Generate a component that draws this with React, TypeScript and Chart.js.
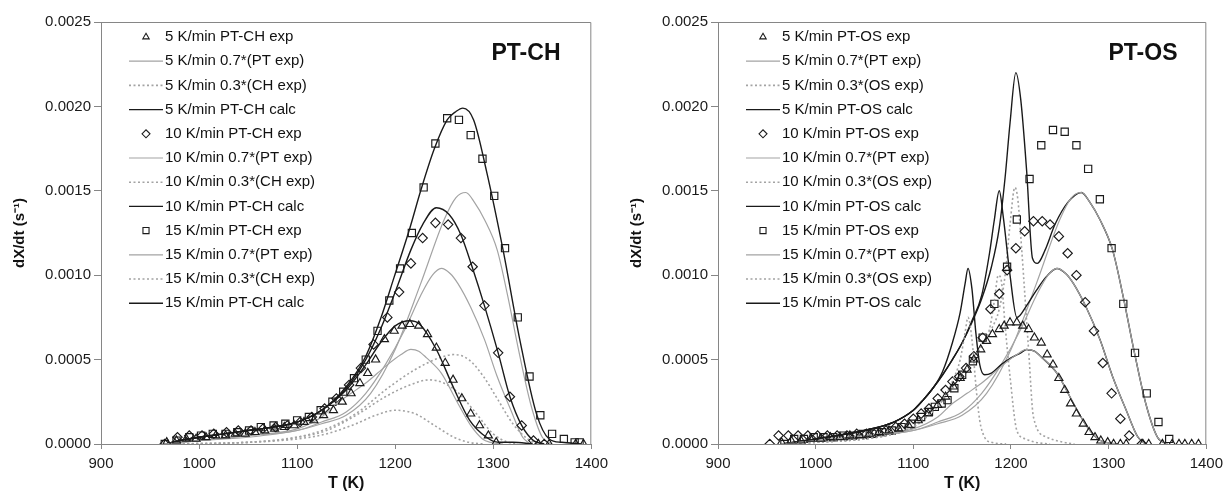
import React, { useEffect, useRef } from 'react';
import { Chart, registerables } from 'chart.js';

Chart.register(...registerables);

type P = [number, number];

// ---------- shared: 0.7*(PT exp) curves (T in K, dX/dt in 1/s) ----------
const pt5: P[] = [[965,0],[1000,0.00002],[1050,0.00005],[1100,0.00009],[1125,0.00016],[1140,0.00024],[1155,0.0003],[1172,0.00037],[1190,0.00046],[1206,0.00053],[1216,0.00056],[1224,0.00055],[1232,0.00051],[1247,0.00042],[1264,0.00024],[1277,0.00011],[1289,0.00003],[1297,0.00001],[1310,0]];
const pt10: P[] = [[965,0],[1000,0.00002],[1050,0.00005],[1100,0.00008],[1125,0.00013],[1150,0.00019],[1170,0.0003],[1190,0.00047],[1210,0.00068],[1226,0.00088],[1238,0.001],[1247,0.00104],[1256,0.00101],[1264,0.00095],[1277,0.00081],[1291,0.00062],[1304,0.0004],[1318,0.0002],[1330,0.00004],[1338,0]];
const pt15: P[] = [[965,0],[1000,0.00002],[1050,0.00004],[1100,0.00008],[1125,0.00012],[1150,0.00017],[1175,0.0003],[1200,0.00056],[1226,0.00095],[1250,0.00133],[1262,0.00146],[1272,0.00149],[1281,0.00143],[1291,0.00133],[1304,0.00115],[1315,0.00087],[1325,0.00058],[1338,0.00024],[1350,0.00004],[1360,0]];

// ---------- PT-CH panel ----------
const ch5Exp: P[] = [[967,0.00001],[977,0.00002],[987,0.00003],[997,0.00003],[1007,0.00004],[1017,0.00005],[1027,0.00005],[1037,0.00006],[1047,0.00006],[1057,0.00007],[1067,0.00008],[1077,0.00009],[1087,0.0001],[1097,0.00011],[1107,0.00013],[1117,0.00014],[1127,0.00017],[1137,0.0002],[1146,0.00025],[1155,0.0003],[1164,0.00036],[1172,0.00042],[1180,0.0005],[1189,0.00062],[1199,0.00067],[1207,0.0007],[1215,0.00071],[1224,0.0007],[1233,0.00065],[1242,0.00057],[1251,0.00048],[1259,0.00038],[1268,0.00027],[1277,0.00018],[1286,0.00011],[1295,0.00005],[1303,0.00001],[1346,0],[1357,0],[1384,0],[1392,0]];
const ch5CH: P[] = [[965,0],[1050,0.00001],[1100,0.00003],[1130,0.00006],[1160,0.00012],[1180,0.00017],[1200,0.0002],[1220,0.00018],[1240,0.00011],[1260,0.00004],[1275,0.00001],[1290,0]];
const ch5Calc: P[] = [[965,0],[980,0.00002],[1000,0.00004],[1025,0.00006],[1050,0.00008],[1075,0.0001],[1100,0.00013],[1125,0.0002],[1150,0.00032],[1170,0.00047],[1185,0.0006],[1200,0.0007],[1215,0.00073],[1225,0.00071],[1242,0.00056],[1259,0.00034],[1276,0.00014],[1293,0.00004],[1305,0.00001],[1320,0.00001],[1340,0]];

const ch10Exp: P[] = [[965,0],[978,0.00004],[990,0.00005],[1003,0.00005],[1015,0.00006],[1028,0.00007],[1040,0.00008],[1053,0.00008],[1065,0.00009],[1078,0.0001],[1090,0.00011],[1103,0.00013],[1115,0.00016],[1128,0.00021],[1140,0.00027],[1153,0.00035],[1165,0.00045],[1178,0.00059],[1192,0.00075],[1204,0.0009],[1216,0.00107],[1228,0.00122],[1241,0.00131],[1254,0.0013],[1267,0.00122],[1279,0.00105],[1291,0.00082],[1305,0.00054],[1317,0.00028],[1329,0.00011],[1341,0.00002],[1352,0]];
const ch10CH: P[] = [[965,0],[1050,0.00001],[1100,0.00004],[1130,0.00008],[1160,0.00017],[1190,0.00028],[1215,0.00035],[1235,0.00038],[1250,0.00036],[1265,0.0003],[1280,0.0002],[1300,0.00006],[1315,0.00001],[1325,0]];
const ch10Calc: P[] = [[965,0],[980,0.00002],[1000,0.00004],[1025,0.00006],[1050,0.00008],[1075,0.0001],[1100,0.00013],[1125,0.0002],[1150,0.00033],[1170,0.0005],[1185,0.00068],[1200,0.0009],[1216,0.00115],[1228,0.0013],[1242,0.0014],[1255,0.00136],[1267,0.00124],[1279,0.00104],[1291,0.00082],[1305,0.00054],[1317,0.00028],[1329,0.00011],[1341,0.00002],[1352,0]];

const ch15Exp: P[] = [[965,0],[977,0.00002],[990,0.00004],[1002,0.00005],[1014,0.00006],[1027,0.00006],[1039,0.00007],[1051,0.00008],[1063,0.0001],[1076,0.00011],[1088,0.00012],[1100,0.00014],[1112,0.00016],[1124,0.0002],[1136,0.00025],[1147,0.00031],[1158,0.00039],[1170,0.0005],[1182,0.00067],[1194,0.00085],[1205,0.00104],[1217,0.00125],[1229,0.00152],[1241,0.00178],[1253,0.00193],[1265,0.00192],[1277,0.00183],[1289,0.00169],[1301,0.00147],[1312,0.00116],[1325,0.00075],[1337,0.0004],[1348,0.00017],[1360,0.00006],[1372,0.00003],[1383,0.00001],[1388,0.00001]];
const ch15CH: P[] = [[965,0],[1050,0.00001],[1100,0.00004],[1130,0.00009],[1160,0.00018],[1190,0.00032],[1220,0.00044],[1245,0.00051],[1260,0.00053],[1275,0.0005],[1290,0.0004],[1305,0.00026],[1320,0.00012],[1335,0.00003],[1345,0]];
const ch15Calc: P[] = [[965,0],[980,0.00002],[1000,0.00004],[1025,0.00006],[1050,0.00008],[1075,0.0001],[1100,0.00013],[1125,0.0002],[1150,0.00034],[1170,0.00052],[1185,0.00074],[1199,0.00099],[1215,0.00128],[1226,0.0015],[1240,0.00175],[1253,0.00192],[1262,0.00197],[1269,0.00199],[1280,0.00192],[1293,0.00162],[1310,0.00115],[1327,0.00062],[1344,0.00018],[1357,0.00003],[1370,0.00001],[1390,0]];

// ---------- PT-OS panel ----------
const os5Exp: P[] = [[965,0.00001],[975,0.00002],[985,0.00002],[995,0.00003],[1005,0.00003],[1015,0.00004],[1025,0.00004],[1035,0.00005],[1045,0.00005],[1055,0.00006],[1065,0.00007],[1075,0.00008],[1085,0.00009],[1095,0.00011],[1105,0.00014],[1115,0.00018],[1125,0.00023],[1133,0.00028],[1141,0.00034],[1148,0.00039],[1155,0.00044],[1162,0.0005],[1169,0.00056],[1175,0.00061],[1181,0.00065],[1188,0.00068],[1193,0.0007],[1199,0.00072],[1206,0.00072],[1212,0.0007],[1218,0.00068],[1224,0.00063],[1231,0.0006],[1237,0.00053],[1243,0.00047],[1249,0.00039],[1255,0.00032],[1261,0.00024],[1267,0.00018],[1274,0.00012],[1280,0.00007],[1286,0.00004],[1292,0.00002],[1299,0.00001],[1305,0],[1312,0],[1318,0],[1335,0],[1341,0],[1355,0],[1365,0],[1372,0],[1378,0],[1385,0],[1392,0]];
const os5OS: P[] = [[965,0],[1000,0.00001],[1050,0.00003],[1080,0.00006],[1100,0.0001],[1110,0.00015],[1120,0.00019],[1130,0.00026],[1140,0.00037],[1148,0.0005],[1153,0.00066],[1156,0.00075],[1160,0.00062],[1164,0.00035],[1168,0.00014],[1173,0.00004],[1180,0.00001],[1195,0]];
const os5Calc: P[] = [[965,0],[1000,0.00003],[1050,0.00008],[1080,0.00013],[1100,0.0002],[1110,0.00026],[1120,0.00033],[1130,0.00043],[1140,0.0006],[1148,0.00078],[1153,0.00095],[1156,0.00104],[1160,0.00092],[1164,0.00066],[1168,0.00047],[1173,0.00041],[1180,0.00042],[1190,0.00047],[1200,0.00051],[1210,0.00054],[1216,0.00056],[1224,0.00055],[1232,0.00051],[1247,0.00042],[1264,0.00024],[1277,0.00011],[1289,0.00003],[1297,0.00001],[1310,0]];

const os10Exp: P[] = [[953,0],[962,0.00005],[972,0.00005],[982,0.00005],[992,0.00005],[1002,0.00005],[1012,0.00005],[1022,0.00005],[1032,0.00005],[1042,0.00006],[1052,0.00006],[1062,0.00007],[1072,0.00008],[1082,0.0001],[1091,0.00012],[1100,0.00015],[1108,0.00018],[1116,0.00021],[1125,0.00027],[1133,0.00032],[1140,0.00037],[1147,0.0004],[1154,0.00045],[1162,0.00052],[1171,0.00063],[1179,0.0008],[1188,0.00089],[1196,0.00103],[1205,0.00116],[1214,0.00126],[1223,0.00132],[1232,0.00132],[1240,0.0013],[1249,0.00123],[1258,0.00113],[1267,0.001],[1276,0.00084],[1285,0.00067],[1294,0.00048],[1303,0.0003],[1312,0.00015],[1321,0.00005],[1334,0]];
const os10OS: P[] = [[965,0],[1000,0.00001],[1050,0.00003],[1080,0.00006],[1100,0.0001],[1110,0.00015],[1120,0.0002],[1130,0.00027],[1140,0.00034],[1150,0.00042],[1160,0.0005],[1170,0.00058],[1178,0.00068],[1183,0.00085],[1187,0.001],[1190,0.00097],[1194,0.0007],[1199,0.0004],[1206,0.00008],[1215,0.00003],[1225,0.00001],[1240,0]];
const os10Calc: P[] = [[965,0],[1000,0.00003],[1050,0.00008],[1080,0.00013],[1100,0.0002],[1110,0.00026],[1120,0.00033],[1130,0.00041],[1140,0.0005],[1150,0.0006],[1160,0.00073],[1170,0.00088],[1178,0.00113],[1183,0.00133],[1188,0.0015],[1192,0.00135],[1199,0.001],[1206,0.00075],[1216,0.00082],[1226,0.00091],[1236,0.00099],[1247,0.00104],[1256,0.00101],[1264,0.00095],[1277,0.00081],[1291,0.00062],[1304,0.0004],[1318,0.0002],[1330,0.00004],[1338,0]];

const os15Exp: P[] = [[968,0],[978,0.00003],[988,0.00003],[998,0.00004],[1008,0.00004],[1018,0.00004],[1028,0.00005],[1038,0.00005],[1048,0.00006],[1058,0.00006],[1068,0.00007],[1078,0.00008],[1088,0.0001],[1098,0.00012],[1108,0.00016],[1116,0.00019],[1122,0.00022],[1129,0.00024],[1135,0.00026],[1142,0.00033],[1150,0.00041],[1161,0.00049],[1171,0.00063],[1183,0.00083],[1196,0.00105],[1206,0.00133],[1219,0.00157],[1231,0.00177],[1243,0.00186],[1255,0.00185],[1267,0.00177],[1279,0.00163],[1291,0.00145],[1303,0.00116],[1315,0.00083],[1327,0.00054],[1339,0.0003],[1351,0.00013],[1362,0.00003]];
const os15OS: P[] = [[965,0],[1000,0.00001],[1050,0.00003],[1080,0.00006],[1100,0.0001],[1110,0.00014],[1120,0.0002],[1130,0.00026],[1140,0.00033],[1150,0.00042],[1160,0.0005],[1170,0.00058],[1180,0.00068],[1188,0.0008],[1194,0.001],[1199,0.0013],[1204,0.00152],[1207,0.00145],[1211,0.00115],[1218,0.00056],[1223,0.00016],[1237,0.00004],[1254,0.00001],[1265,0]];
const os15Calc: P[] = [[965,0],[1000,0.00003],[1050,0.00008],[1080,0.00013],[1100,0.0002],[1110,0.00026],[1120,0.00033],[1130,0.00041],[1140,0.0005],[1150,0.0006],[1160,0.00072],[1170,0.00086],[1180,0.00105],[1188,0.00128],[1194,0.00158],[1199,0.0019],[1205,0.0022],[1210,0.00204],[1216,0.00162],[1222,0.0011],[1227,0.00107],[1235,0.00115],[1245,0.0013],[1258,0.00143],[1272,0.00149],[1281,0.00143],[1291,0.00133],[1304,0.00115],[1315,0.00087],[1325,0.00058],[1338,0.00024],[1350,0.00004],[1360,0]];

// ---------- axes ----------
const xTicks = [900, 1000, 1100, 1200, 1300, 1400];
const yTicks = ['0.0000', '0.0005', '0.0010', '0.0015', '0.0020', '0.0025'];
const rates = ['5', '10', '15'];
const markers = ['triangle', 'rectRot', 'rect'];
const markerRadius = [4.7, 4.7, 5.1];
const legendMarkerRadius = [3.7, 4.0, 4.3];

const FAMILY = '"Liberation Sans", Arial, Helvetica, sans-serif';
const AXIS = '#868686';
const BLACK = '#1a1a1a';
const GRAY = '#a3a3a3';

type Group = { exp: P[]; pt: P[]; other: P[]; calc: P[] };

const toXY = (a: P[]) => a.map(([x, y]) => ({ x, y }));

function buildDatasets(groups: Group[], sys: string, otherName: string) {
  const out: any[] = [];
  groups.forEach((g, i) => {
    const r = rates[i];
    out.push({
      kind: 'exp', label: `${r} K/min ${sys} exp`, data: toXY(g.exp), showLine: false,
      pointStyle: markers[i], pointRadius: markerRadius[i], legendRadius: legendMarkerRadius[i], borderColor: BLACK,
      backgroundColor: 'rgba(0,0,0,0)', pointBorderWidth: 1.15, borderWidth: 1.15,
    });
    out.push({
      kind: 'line', label: `${r} K/min 0.7*(PT exp)`, data: toXY(g.pt), showLine: true,
      borderColor: GRAY, borderWidth: 1.2, pointRadius: 0, cubicInterpolationMode: 'monotone',
    });
    out.push({
      kind: 'line', label: `${r} K/min 0.3*(${otherName} exp)`, data: toXY(g.other), showLine: true,
      borderColor: GRAY, borderWidth: 1.6, borderDash: [2, 2.5], pointRadius: 0, cubicInterpolationMode: 'monotone',
    });
    out.push({
      kind: 'line', label: `${r} K/min ${sys} calc`, data: toXY(g.calc), showLine: true,
      borderColor: BLACK, borderWidth: 1.4, pointRadius: 0, cubicInterpolationMode: 'monotone',
    });
  });
  return out;
}

function drawMarker(ctx: CanvasRenderingContext2D, style: string, x: number, y: number, r: number) {
  ctx.beginPath();
  if (style === 'triangle') {
    ctx.moveTo(x, y - r);
    ctx.lineTo(x + r * 0.866, y + r * 0.5);
    ctx.lineTo(x - r * 0.866, y + r * 0.5);
  } else if (style === 'rectRot') {
    ctx.moveTo(x - r, y);
    ctx.lineTo(x, y - r);
    ctx.lineTo(x + r, y);
    ctx.lineTo(x, y + r);
  } else {
    const s = r * Math.SQRT1_2;
    ctx.rect(x - s, y - s, 2 * s, 2 * s);
  }
  ctx.closePath();
  ctx.strokeStyle = BLACK;
  ctx.lineWidth = 1.1;
  ctx.stroke();
}

const overlayPlugin = {
  id: 'overlay',
  afterDraw(chart: any, _args: any, opts: any) {
    const { ctx, chartArea: a } = chart;
    ctx.save();
    // frame (top + right)
    ctx.strokeStyle = AXIS;
    ctx.lineWidth = 1;
    ctx.beginPath();
    ctx.moveTo(a.left, a.top + 0.5);
    ctx.lineTo(a.right - 0.5, a.top + 0.5);
    ctx.lineTo(a.right - 0.5, a.bottom);
    ctx.stroke();
    // panel label
    ctx.fillStyle = '#111';
    ctx.font = `bold 23px ${FAMILY}`;
    ctx.textAlign = 'center';
    ctx.textBaseline = 'middle';
    ctx.fillText(opts.label, a.left + 425, a.top + 32);
    // legend
    ctx.font = `15px ${FAMILY}`;
    ctx.textAlign = 'left';
    chart.data.datasets.forEach((ds: any, i: number) => {
      const y = a.top + 15 + i * 24.2;
      if (ds.kind === 'exp') {
        drawMarker(ctx, ds.pointStyle, a.left + 45, y, ds.legendRadius);
      } else {
        ctx.save();
        ctx.strokeStyle = ds.borderColor;
        ctx.lineWidth = ds.borderWidth;
        ctx.setLineDash(ds.borderDash || []);
        ctx.beginPath();
        ctx.moveTo(a.left + 28, y);
        ctx.lineTo(a.left + 62, y);
        ctx.stroke();
        ctx.restore();
      }
      ctx.fillStyle = '#111';
      ctx.fillText(ds.label, a.left + 64, y);
    });
    ctx.restore();
  },
};

function Panel(props: { datasets: any[]; label: string; width: number; yWidth: number; yTitlePad: number }) {
  const ref = useRef<HTMLCanvasElement>(null);
  useEffect(() => {
    const chart = new Chart(ref.current as HTMLCanvasElement, {
      type: 'scatter',
      data: { datasets: props.datasets },
      plugins: [overlayPlugin as any],
      options: {
        animation: false,
        responsive: false,
        devicePixelRatio: 1,
        events: [],
        layout: { padding: { top: 22, right: 18, left: 0, bottom: 0 } },
        plugins: {
          legend: { display: false },
          tooltip: { enabled: false },
          overlay: { label: props.label },
        } as any,
        scales: {
          x: {
            type: 'linear',
            min: xTicks[0],
            max: xTicks[xTicks.length - 1],
            afterBuildTicks: (s: any) => { s.ticks = xTicks.map((v) => ({ value: v })); },
            afterFit: (s: any) => { s.height = 57; },
            ticks: { color: '#1a1a1a', font: { family: FAMILY, size: 15 }, padding: 6, maxRotation: 0, autoSkip: false, callback: (v: any) => String(v) },
            grid: { drawOnChartArea: false, drawTicks: true, tickLength: 5, color: AXIS },
            border: { color: AXIS },
            title: { display: true, text: 'T (K)', color: '#111', font: { family: FAMILY, size: 16, weight: 'bold' }, padding: { top: 0, bottom: 8 } },
          },
          y: {
            type: 'linear',
            min: 0,
            max: 0.0025,
            afterBuildTicks: (s: any) => { s.ticks = yTicks.map((t) => ({ value: parseFloat(t) })); },
            afterFit: (s: any) => { s.width = props.yWidth; },
            ticks: { color: '#1a1a1a', font: { family: FAMILY, size: 15 }, padding: 3, callback: (v: any) => Number(v).toFixed(4) },
            grid: { drawOnChartArea: false, drawTicks: true, tickLength: 7, color: AXIS },
            border: { color: AXIS },
            title: { display: true, text: 'dX/dt (s⁻¹)', color: '#111', font: { family: FAMILY, size: 15, weight: 'bold' }, padding: { top: props.yTitlePad, bottom: 0 } },
          },
        } as any,
      },
    });
    return () => chart.destroy();
  }, []);
  return <canvas ref={ref} width={props.width} height={501} style={{ display: 'block', width: props.width, height: 501 }} />;
}

const chGroups: Group[] = [
  { exp: ch5Exp, pt: pt5, other: ch5CH, calc: ch5Calc },
  { exp: ch10Exp, pt: pt10, other: ch10CH, calc: ch10Calc },
  { exp: ch15Exp, pt: pt15, other: ch15CH, calc: ch15Calc },
];
const osGroups: Group[] = [
  { exp: os5Exp, pt: pt5, other: os5OS, calc: os5Calc },
  { exp: os10Exp, pt: pt10, other: os10OS, calc: os10Calc },
  { exp: os15Exp, pt: pt15, other: os15OS, calc: os15Calc },
];

export default function App() {
  useEffect(() => {
    document.body.style.margin = '0';
    document.body.style.background = '#ffffff';
  }, []);
  return (
    <div style={{ position: 'relative', width: 1229, height: 501, background: '#fff', overflow: 'hidden' }}>
      <div style={{ position: 'absolute', left: 0, top: 0 }}>
        <Panel datasets={buildDatasets(chGroups, 'PT-CH', 'CH')} label="PT-CH" width={614} yWidth={101} yTitlePad={11} />
      </div>
      <div style={{ position: 'absolute', left: 614, top: 0 }}>
        <Panel datasets={buildDatasets(osGroups, 'PT-OS', 'OS')} label="PT-OS" width={615} yWidth={104} yTitlePad={14} />
      </div>
    </div>
  );
}
